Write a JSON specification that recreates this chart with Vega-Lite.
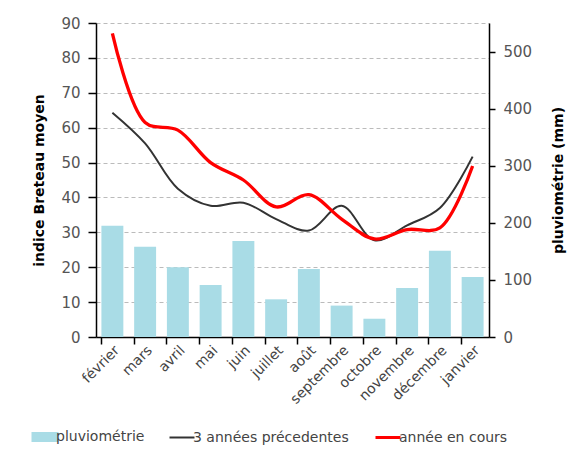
{
  "$schema": "https://vega.github.io/schema/vega-lite/v6.json",
  "autosize": "none",
  "width": 393,
  "height": 314,
  "padding": {"left": 96, "top": 23, "right": 87, "bottom": 119},
  "background": "white",
  "config": {"view": {"stroke": null}, "font": "DejaVu Sans"},
  "data": {
    "values": [
      {"mois": "février", "serie": "pluviométrie", "valeur": 195},
      {"mois": "mars", "serie": "pluviométrie", "valeur": 158},
      {"mois": "avril", "serie": "pluviométrie", "valeur": 122},
      {"mois": "mai", "serie": "pluviométrie", "valeur": 91},
      {"mois": "juin", "serie": "pluviométrie", "valeur": 168},
      {"mois": "juillet", "serie": "pluviométrie", "valeur": 66},
      {"mois": "août", "serie": "pluviométrie", "valeur": 119},
      {"mois": "septembre", "serie": "pluviométrie", "valeur": 55},
      {"mois": "octobre", "serie": "pluviométrie", "valeur": 32},
      {"mois": "novembre", "serie": "pluviométrie", "valeur": 86},
      {"mois": "décembre", "serie": "pluviométrie", "valeur": 151},
      {"mois": "janvier", "serie": "pluviométrie", "valeur": 105},
      {"mois": "février", "serie": "3 années précedentes", "valeur": 64.3},
      {"mois": "mars", "serie": "3 années précedentes", "valeur": 55.5},
      {"mois": "avril", "serie": "3 années précedentes", "valeur": 42.5},
      {"mois": "mai", "serie": "3 années précedentes", "valeur": 37.6},
      {"mois": "juin", "serie": "3 années précedentes", "valeur": 38.5},
      {"mois": "juillet", "serie": "3 années précedentes", "valeur": 33.8},
      {"mois": "août", "serie": "3 années précedentes", "valeur": 30.5},
      {"mois": "septembre", "serie": "3 années précedentes", "valeur": 37.6},
      {"mois": "octobre", "serie": "3 années précedentes", "valeur": 27.7},
      {"mois": "novembre", "serie": "3 années précedentes", "valeur": 32},
      {"mois": "décembre", "serie": "3 années précedentes", "valeur": 37},
      {"mois": "janvier", "serie": "3 années précedentes", "valeur": 51.7},
      {"mois": "février", "serie": "année en cours", "valeur": 87},
      {"mois": "mars", "serie": "année en cours", "valeur": 61.5},
      {"mois": "avril", "serie": "année en cours", "valeur": 59.3},
      {"mois": "mai", "serie": "année en cours", "valeur": 50},
      {"mois": "juin", "serie": "année en cours", "valeur": 45},
      {"mois": "juillet", "serie": "année en cours", "valeur": 37.3},
      {"mois": "août", "serie": "année en cours", "valeur": 40.8},
      {"mois": "septembre", "serie": "année en cours", "valeur": 33.8},
      {"mois": "octobre", "serie": "année en cours", "valeur": 28.1},
      {"mois": "novembre", "serie": "année en cours", "valeur": 30.8},
      {"mois": "décembre", "serie": "année en cours", "valeur": 31.3},
      {"mois": "janvier", "serie": "année en cours", "valeur": 49}
    ]
  },
  "layer": [
    {
      "transform": [{"filter": "datum.serie === 'pluviométrie'"}],
      "mark": {"type": "bar"},
      "encoding": {
        "x": {
          "field": "mois", "type": "nominal",
          "sort": ["février", "mars", "avril", "mai", "juin", "juillet", "août", "septembre", "octobre", "novembre", "décembre", "janvier"],
          "scale": {"paddingInner": 0.33, "paddingOuter": 0.165},
          "axis": {"orient": "bottom", "bandPosition": 0, "labels": false, "domain": true, "domainColor": "black", "domainWidth": 1.5, "ticks": true, "tickColor": "black", "tickSize": 7, "tickWidth": 1.5, "title": null, "grid": false}
        },
        "y": {
          "field": "valeur", "type": "quantitative",
          "scale": {"domain": [0, 550], "nice": false},
          "axis": {"orient": "right", "values": [0, 100, 200, 300, 400, 500], "grid": false, "title": "pluviométrie (mm)", "titleAngle": -90, "titleBaseline": "top", "titleFont": "DejaVu Sans", "titleFontSize": 14, "titleFontWeight": "bold", "titleColor": "black", "titlePadding": 20, "labelFont": "DejaVu Sans", "labelFontSize": 15, "labelColor": "#555", "labelPadding": 8, "domainColor": "black", "domainWidth": 1.5, "tickColor": "black", "tickSize": 6, "tickWidth": 1.5}
        },
        "color": {
          "field": "serie", "type": "nominal",
          "scale": {"domain": ["pluviométrie", "3 années précedentes", "année en cours"], "range": ["#a9dce6", "#333333", "#ff0000"]},
          "legend": {
            "title": null, "orient": "none", "direction": "horizontal", "legendX": -58, "legendY": 407,
            "padding": 0, "columnPadding": 20, "symbolSize": 625, "labelOffset": 4,
            "labelFont": "DejaVu Sans", "labelFontSize": 14, "labelColor": "#444",
            "encode": {
              "symbols": {
                "update": {
                  "shape": {"signal": "datum.value === 'pluviométrie' ? 'M-1,-0.32H1V0.32H-1Z' : 'stroke'"},
                  "fill": {"signal": "datum.value === 'pluviométrie' ? '#a9dce6' : 'transparent'"},
                  "stroke": {"signal": "datum.value === 'pluviométrie' ? 'transparent' : (datum.value === 'année en cours' ? '#ff0000' : '#333333')"},
                  "strokeWidth": {"signal": "datum.value === 'année en cours' ? 3 : 2"},
                  "opacity": {"value": 1}
                }
              }
            }
          }
        }
      }
    },
    {
      "transform": [{"filter": "datum.serie !== 'pluviométrie'"}],
      "mark": {"type": "line", "interpolate": "catmull-rom"},
      "encoding": {
        "x": {
          "field": "mois", "type": "nominal",
          "sort": ["février", "mars", "avril", "mai", "juin", "juillet", "août", "septembre", "octobre", "novembre", "décembre", "janvier"],
          "axis": {"orient": "bottom", "labels": true, "labelAngle": -45, "ticks": false, "domain": false, "labelPadding": 6, "labelFont": "DejaVu Sans", "labelFontSize": 14, "labelColor": "#444", "title": null, "grid": false}
        },
        "y": {
          "field": "valeur", "type": "quantitative",
          "scale": {"domain": [0, 90], "nice": false},
          "axis": {"orient": "left", "values": [0, 10, 20, 30, 40, 50, 60, 70, 80, 90], "grid": true, "gridColor": "#bbbbbb", "gridDash": [4, 3], "gridWidth": 1, "title": "indice Breteau moyen", "titleFont": "DejaVu Sans", "titleFontSize": 14, "titleFontWeight": "bold", "titleColor": "black", "titlePadding": 14, "labelFont": "DejaVu Sans", "labelFontSize": 15, "labelColor": "#555", "labelPadding": 8, "domainColor": "black", "domainWidth": 1.5, "tickColor": "black", "tickSize": 8, "tickWidth": 1.5}
        },
        "color": {"field": "serie", "type": "nominal"},
        "strokeWidth": {"field": "serie", "type": "nominal", "scale": {"domain": ["3 années précedentes", "année en cours"], "range": [2, 3.3]}, "legend": null}
      }
    }
  ],
  "resolve": {"scale": {"y": "independent"}, "axis": {"x": "independent"}}
}
